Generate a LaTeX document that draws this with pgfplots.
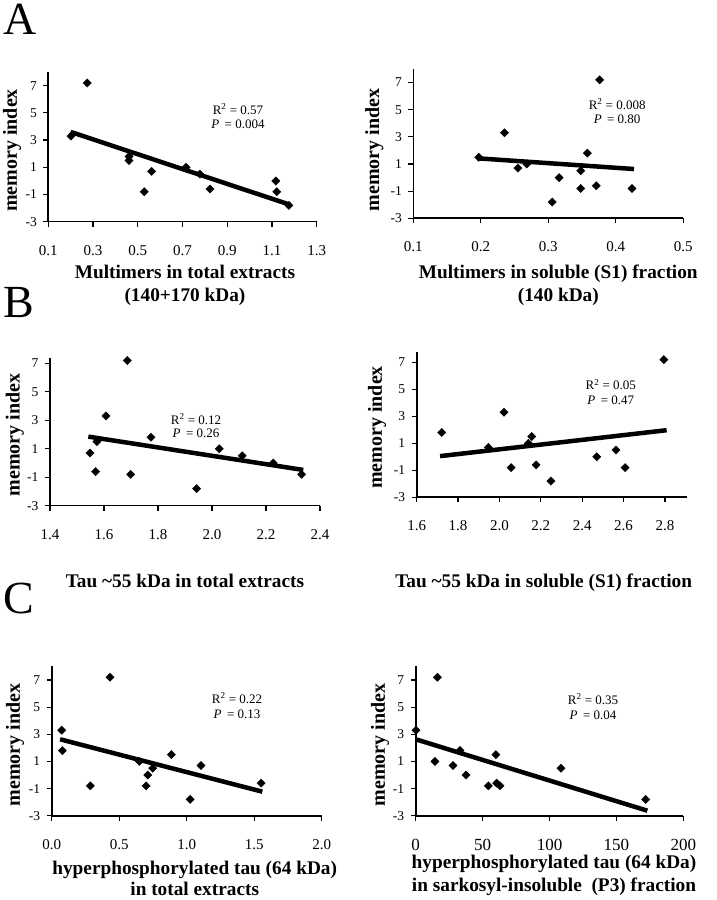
\documentclass[border=0pt]{standalone}
\usepackage{fontspec}
\setmainfont{Liberation Serif}
\usepackage{pgfplots}
\pgfplotsset{compat=1.18}

\pgfplotsset{
  panel/.style={
    scale only axis, axis lines=left, axis line style={-, line width=1.6pt},
    tick style={line width=1.2pt, black}, tick align=outside, major tick length=5pt,
    ymin=-3, ytick={-3,-1,1,3,5,7},
    yticklabel style={font=\fontsize{13.5}{16}\selectfont, xshift=-3pt},
    xticklabel style={font=\fontsize{15}{17}\selectfont, yshift=-15pt},
    /pgf/number format/assume math mode=true,
    xlabel style={font=\fontsize{19.3}{23}\selectfont\bfseries, align=center, anchor=north},
    ylabel style={font=\fontsize{20}{24}\selectfont\bfseries, anchor=center, rotate=0},
    clip=false,
  },
  pts/.style={only marks, mark=square*, mark size=2.9pt, color=black,
    mark options={rotate=45}},
  fit/.style={no marks, line width=4.5pt, black},
}
\tikzset{ann/.style={font=\fontsize{13}{14}\selectfont, anchor=center}}

\begin{document}
\begin{tikzpicture}
\useasboundingbox (0,0) rectangle (716pt,900pt);

\node[anchor=base west, inner sep=0pt, font=\fontsize{46}{46}\selectfont] at (3pt,865pt) {A};
\node[anchor=base west, inner sep=0pt, font=\fontsize{46}{46}\selectfont] at (3pt,582pt) {B};
\node[anchor=base west, inner sep=0pt, font=\fontsize{46}{46}\selectfont] at (3pt,286pt) {C};

% A left
\begin{axis}[panel, at={(48.3pt,678.3pt)}, anchor=south west,
  width=268.4pt, height=149.6pt, xmin=0.1, xmax=1.3, ymax=8,
  xtick={0.1,0.3,0.5,0.7,0.9,1.1,1.3},
  xticklabel style={/pgf/number format/.cd, fixed, zerofill, precision=1},
  xlabel={Multimers in total extracts\\(140+170 kDa)},
  xlabel style={at={(axis description cs:0.5,0)}, yshift=-40pt, xshift=2.5pt},
  ylabel={memory index},
  ylabel style={at={(axis description cs:-0.135,0.476)}},
]
\addplot[pts] coordinates {(0.201,3.3) (0.274,7.2) (0.461,1.8) (0.461,1.5)
  (0.529,-0.8) (0.562,0.7) (0.716,1.0) (0.778,0.5) (0.823,-0.6)
  (1.117,0.0) (1.121,-0.8) (1.176,-1.8)};
\addplot[fit] coordinates {(0.2,3.6) (1.18,-1.75)};
\node[ann] at (axis cs:0.948,5.29) {R\textsuperscript{2} = 0.57};
\node[ann] at (axis cs:0.948,4.18) {\textit{P}\, = 0.004};
\end{axis}

% A right
\begin{axis}[panel, at={(413.3pt,681.7pt)}, anchor=south west,
  width=270pt, height=149.3pt, xmin=0.1, xmax=0.5, ymax=8,
  xtick={0.1,0.2,0.3,0.4,0.5},
  xticklabel style={/pgf/number format/.cd, fixed, zerofill, precision=1},
  xlabel={Multimers in soluble (S1) fraction\\(140 kDa)},
  xlabel style={at={(axis description cs:0.5,0)}, yshift=-43pt, xshift=10pt},
  ylabel={memory index},
  ylabel style={at={(axis description cs:-0.144,0.457)}},
]
\addplot[pts] coordinates {(0.197,1.5) (0.235,3.3) (0.255,0.7) (0.268,1.0)
  (0.306,-1.8) (0.316,0.0) (0.348,0.5) (0.348,-0.8) (0.358,1.8)
  (0.376,7.2) (0.371,-0.6) (0.424,-0.8)};
\addplot[fit] coordinates {(0.195,1.42) (0.427,0.63)};
\node[ann] at (axis cs:0.402,5.42) {R\textsuperscript{2} = 0.008};
\node[ann] at (axis cs:0.402,4.32) {\textit{P}\, = 0.80};
\end{axis}

% B left
\begin{axis}[panel, at={(50pt,394.3pt)}, anchor=south west,
  width=270pt, height=148.1pt, xmin=1.4, xmax=2.4, ymax=7.4,
  xtick={1.4,1.6,1.8,2.0,2.2,2.4},
  xticklabel style={/pgf/number format/.cd, fixed, zerofill, precision=1},
  xlabel={Tau \textasciitilde55 kDa in total extracts},
  xlabel style={at={(axis description cs:0.5,0)}, yshift=-65pt},
  ylabel={memory index},
  ylabel style={at={(axis description cs:-0.13,0.477)}},
]
\addplot[pts] coordinates {(1.548,0.7) (1.569,-0.6) (1.574,1.5) (1.607,3.3)
  (1.686,7.2) (1.699,-0.8) (1.774,1.8) (1.943,-1.8) (2.027,1.0)
  (2.112,0.5) (2.227,0.0) (2.332,-0.8)};
\addplot[fit] coordinates {(1.542,1.85) (2.338,-0.49)};
\node[ann] at (axis cs:1.941,3.09) {R\textsuperscript{2} = 0.12};
\node[ann] at (axis cs:1.941,2.11) {\textit{P}\, = 0.26};
\end{axis}

% B right
\begin{axis}[panel, at={(416.7pt,402.7pt)}, anchor=south west,
  width=270pt, height=145.8pt, xmin=1.6, xmax=2.905, ymax=7.8,
  xtick={1.6,1.8,2.0,2.2,2.4,2.6,2.8},
  xticklabel style={/pgf/number format/.cd, fixed, zerofill, precision=1},
  xlabel={Tau \textasciitilde55 kDa in soluble (S1) fraction},
  xlabel style={at={(axis description cs:0.5,0)}, yshift=-73pt, xshift=-8pt},
  ylabel={memory index},
  ylabel style={at={(axis description cs:-0.147,0.479)}},
]
\addplot[pts] coordinates {(1.721,1.8) (1.946,0.7) (2.022,3.3) (2.056,-0.8)
  (2.14,1.0) (2.156,1.5) (2.177,-0.6) (2.249,-1.8) (2.47,0.0)
  (2.563,0.5) (2.607,-0.8) (2.795,7.2)};
\addplot[fit] coordinates {(1.713,0.05) (2.808,1.97)};
\node[ann] at (axis cs:2.538,5.34) {R\textsuperscript{2} = 0.05};
\node[ann] at (axis cs:2.538,4.21) {\textit{P}\, = 0.47};
\end{axis}

% C left
\begin{axis}[panel, at={(51.7pt,84.3pt)}, anchor=south west,
  width=270pt, height=149.3pt, xmin=0, xmax=2, ymax=8,
  xtick={0,0.5,1,1.5,2},
  xticklabel style={/pgf/number format/.cd, fixed, zerofill, precision=1},
  xlabel={hyperphosphorylated tau (64 kDa)\\in total extracts},
  xlabel style={at={(axis description cs:0.5,0)}, yshift=-42pt, xshift=8pt,
    font=\fontsize{19.3}{20.5}\selectfont\bfseries},
  ylabel={memory index},
  ylabel style={at={(axis description cs:-0.136,0.474)}},
]
\addplot[pts] coordinates {(0.074,3.3) (0.079,1.8) (0.286,-0.8) (0.432,7.2)
  (0.649,1.0) (0.699,-0.8) (0.711,0.0) (0.748,0.5) (0.886,1.5)
  (1.025,-1.8) (1.106,0.7) (1.551,-0.6)};
\addplot[fit] coordinates {(0.062,2.63) (1.56,-1.23)};
\node[ann] at (axis cs:1.373,5.67) {R\textsuperscript{2} = 0.22};
\node[ann] at (axis cs:1.373,4.49) {\textit{P}\, = 0.13};
\end{axis}

% C right
\begin{axis}[panel, at={(415.7pt,84.3pt)}, anchor=south west,
  width=267.6pt, height=149.3pt, xmin=0, xmax=200, ymax=8,
  xtick={0,50,100,150,200},
  xticklabel style={font=\fontsize{17}{19}\selectfont},
  xlabel={hyperphosphorylated tau (64 kDa)\\in sarkosyl-insoluble\ \ (P3) fraction},
  xlabel style={at={(axis description cs:0.5,0)}, yshift=-36pt, xshift=4.5pt},
  ylabel={memory index},
  ylabel style={at={(axis description cs:-0.133,0.474)}},
]
\addplot[pts] coordinates {(0.2,3.3) (14.4,1.0) (16.2,7.2) (27.9,0.7)
  (33.1,1.8) (37.6,0.0) (54.3,-0.8) (60.0,1.5) (60.5,-0.6) (63.0,-0.8)
  (108.6,0.5) (171.9,-1.8)};
\addplot[fit] coordinates {(0,2.63) (173.1,-2.63)};
\node[ann] at (axis cs:132.5,5.6) {R\textsuperscript{2} = 0.35};
\node[ann] at (axis cs:132.5,4.4) {\textit{P}\, = 0.04};
\end{axis}

\end{tikzpicture}
\end{document}
